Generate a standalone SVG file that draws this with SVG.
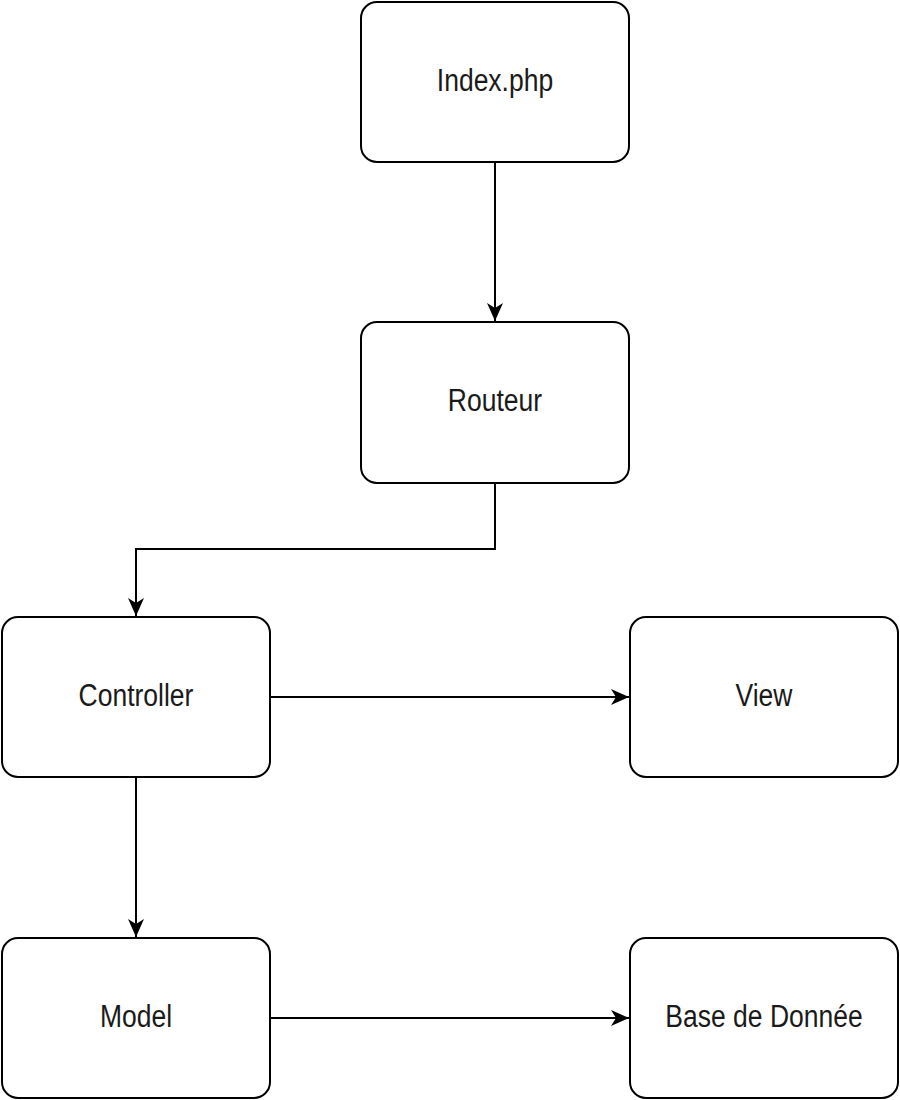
<svg xmlns="http://www.w3.org/2000/svg" width="900" height="1100" viewBox="0 0 900 1100">
<style>
.box{fill:#fff;stroke:#000;stroke-width:2}
.lbl{font-family:"Liberation Sans",Arial,sans-serif;font-size:26.5px;fill:#1a1a1a;text-anchor:middle}
.edge{fill:none;stroke:#000;stroke-width:2}
</style>
<defs>
<marker id="arr" markerUnits="userSpaceOnUse" markerWidth="20" markerHeight="18" refX="18" refY="8" orient="auto">
<path d="M0,0 L18,8 L0,16 L5,8 z" fill="#000"/>
</marker>
</defs>
<rect width="900" height="1100" fill="#fff"/>
<g id="connectors">
<path class="edge" d="M495,162 V321" marker-end="url(#arr)"/>
<path class="edge" d="M495,483 V549 H136 V616" marker-end="url(#arr)"/>
<path class="edge" d="M270,697 H629" marker-end="url(#arr)"/>
<path class="edge" d="M136,777 V937" marker-end="url(#arr)"/>
<path class="edge" d="M270,1018 H629" marker-end="url(#arr)"/>
</g>
<g id="index">
<rect class="box" x="361" y="2" width="268" height="160" rx="16"/>
<text class="lbl" transform="translate(495,91) scale(1,1.2)">Index.php</text>
</g>
<g id="routeur">
<rect class="box" x="361" y="322" width="268" height="161" rx="16"/>
<text class="lbl" transform="translate(495,411) scale(1,1.2)">Routeur</text>
</g>
<g id="controller">
<rect class="box" x="2" y="617" width="268" height="160" rx="16"/>
<text class="lbl" transform="translate(136,706) scale(1,1.2)">Controller</text>
</g>
<g id="view">
<rect class="box" x="630" y="617" width="268" height="160" rx="16"/>
<text class="lbl" transform="translate(764,706) scale(1,1.2)">View</text>
</g>
<g id="model">
<rect class="box" x="2" y="938" width="268" height="160" rx="16"/>
<text class="lbl" transform="translate(136,1027) scale(1,1.2)">Model</text>
</g>
<g id="base">
<rect class="box" x="630" y="938" width="268" height="160" rx="16"/>
<text class="lbl" transform="translate(764,1027) scale(1,1.2)">Base de Donnée</text>
</g>
</svg>
